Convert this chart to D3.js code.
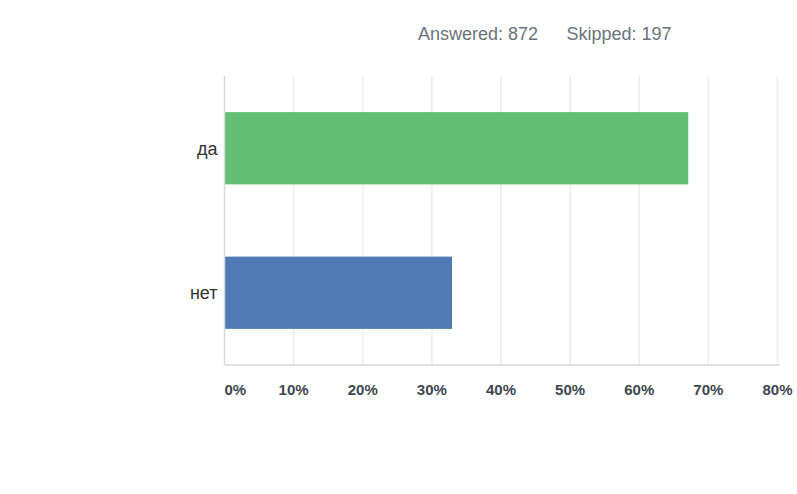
<!DOCTYPE html>
<html>
<head>
<meta charset="utf-8">
<script src="https://cdn.jsdelivr.net/npm/d3@7"></script>
<style>
  body { margin: 0; background: #fff; }
  svg text { font-family: "Liberation Sans", Arial, sans-serif; }
</style>
</head>
<body>
<svg id="chart" width="797" height="494"></svg>
<script>
// survey answers
var categories = ["да", "нет"];
var values = [67.09, 32.91];
var colors = ["#63bf73", "#4e7bb3"];
var tickValues = [0, 10, 20, 30, 40, 50, 60, 70, 80];
var answered = 872, skipped = 197;

var svg = d3.select("#chart");
var m = {left: 224.5, right: 19.5, top: 76, bottom: 129};
var W = 797, H = 494;

var x = d3.scaleLinear()
  .domain([0, 80])
  .range([m.left, W - m.right]);

var y = d3.scaleBand()
  .domain(categories)
  .range([m.top, H - m.bottom])
  .paddingInner(0.5)
  .paddingOuter(0.25);

// header
svg.append("text")
  .attr("x", 418).attr("y", 40)
  .attr("font-size", 18).attr("fill", "#6a737b")
  .text("Answered: " + answered);
svg.append("text")
  .attr("x", 566.5).attr("y", 40)
  .attr("font-size", 18).attr("fill", "#6a737b")
  .text("Skipped: " + skipped);

// gridlines
svg.append("g")
  .selectAll("line")
  .data(tickValues.slice(1))
  .join("line")
  .attr("x1", d => x(d)).attr("x2", d => x(d))
  .attr("y1", m.top).attr("y2", H - m.bottom)
  .attr("stroke", "#ebebeb").attr("stroke-width", 1.5);

// bars
svg.append("g")
  .selectAll("rect")
  .data(categories)
  .join("rect")
  .attr("x", x(0))
  .attr("y", d => y(d))
  .attr("width", (d, i) => x(values[i]) - x(0))
  .attr("height", y.bandwidth())
  .attr("fill", (d, i) => colors[i]);

// axis lines
svg.append("line")
  .attr("x1", m.left).attr("x2", m.left)
  .attr("y1", m.top).attr("y2", H - m.bottom)
  .attr("stroke", "#d9d9d9").attr("stroke-width", 1.5);
svg.append("line")
  .attr("x1", m.left).attr("x2", W - m.right + 2)
  .attr("y1", H - m.bottom).attr("y2", H - m.bottom)
  .attr("stroke", "#d9d9d9").attr("stroke-width", 1.5);

// y labels
svg.append("g")
  .selectAll("text")
  .data(categories)
  .join("text")
  .attr("x", m.left - 7)
  .attr("y", d => y(d) + y.bandwidth() / 2)
  .attr("dy", "0.35em")
  .attr("text-anchor", "end")
  .attr("font-size", 18)
  .attr("fill", "#333")
  .text(d => d);

// x tick labels
svg.append("g")
  .selectAll("text")
  .data(tickValues)
  .join("text")
  .attr("x", d => d === 0 ? x(0) : x(d))
  .attr("y", 395)
  .attr("text-anchor", d => d === 0 ? "start" : "middle")
  .attr("font-size", 15)
  .attr("font-weight", "bold")
  .attr("fill", "#3e4750")
  .text(d => d + "%");
</script>
</body>
</html>
